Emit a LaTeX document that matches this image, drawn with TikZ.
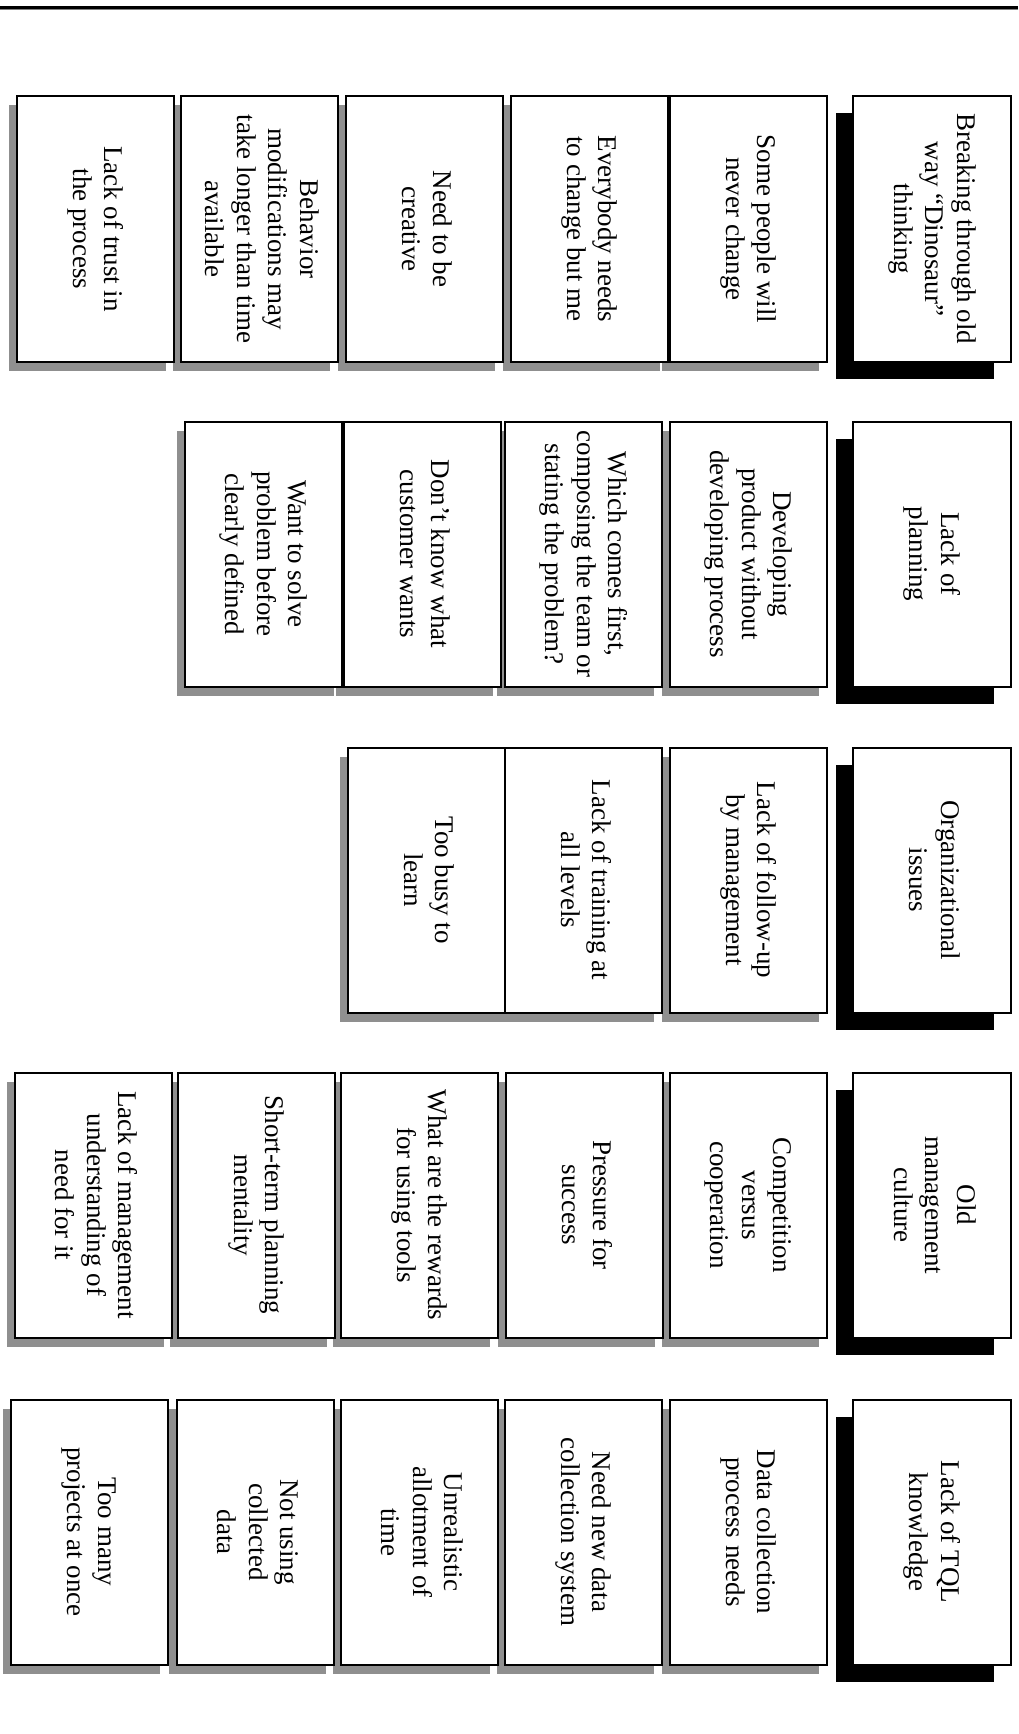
\documentclass[tikz,border=0pt]{standalone}
\usepackage{fontspec}
\setmainfont{Liberation Serif}
\usepackage{graphicx}
\usepackage{tikz}
\usetikzlibrary{positioning,shadows}
\definecolor{ShadowGray}{HTML}{8F8F8F}
\definecolor{RuleGray}{HTML}{808080}
\newcommand{\cardtext}[1]{\rotatebox{-90}{\begin{tabular}{@{}c@{}}#1\end{tabular}}}

\begin{document}
\begin{tikzpicture}[x=1pt,y=-1pt,node distance=7pt,
  cardbase/.style={draw,line width=2pt,fill=white,inner sep=0pt,outer sep=0pt,
    minimum height=265pt,font=\fontsize{27}{31.5}\selectfont},
  card/.style={cardbase,minimum width=157pt,
    drop shadow={shadow xshift=-8pt,shadow yshift=-9pt,fill=ShadowGray,opacity=1}},
  headcard/.style={cardbase,minimum width=158pt,
    drop shadow={shadow xshift=-17pt,shadow yshift=-17pt,fill=black,opacity=1}}]
\useasboundingbox (0,0) rectangle (1018,1734);
\draw[line width=2.7pt] (0,7.3) -- (1018,7.3);
\draw[RuleGray,line width=1.3pt] (0,9.4) -- (1018,9.4);

\node[headcard] (h1) at (932,229) {\cardtext{Breaking through old\\way “Dinosaur”\\thinking}};
\node[card,left=26pt of h1] (a1) {\cardtext{Some people will\\never change}};
\node[card,left=2pt of a1] (a2) {\cardtext{Everybody needs\\to change but me}};
\node[card,left=8pt of a2] (a3) {\cardtext{Need to be\\creative}};
\node[card,left=8pt of a3] (a4) {\cardtext{Behavior\\modifications may\\take longer than time\\available}};
\node[card,left=7pt of a4] (a5) {\cardtext{Lack of trust in\\the process}};

\node[headcard] (h2) at (932,554) {\cardtext{Lack of\\planning}};
\node[card,left=26pt of h2] (b1) {\cardtext{Developing\\product without\\developing process}};
\node[card,left=8pt of b1] (b2) {\cardtext{Which comes first,\\composing the team or\\stating the problem?}};
\node[card,left=4pt of b2] (b3) {\cardtext{Don’t know what\\customer wants}};
\node[card,left=2pt of b3] (b4) {\cardtext{Want to solve\\problem before\\clearly defined}};

\node[headcard] (h3) at (932,880) {\cardtext{Organizational\\issues}};
\node[card,left=26pt of h3] (c1) {\cardtext{Lack of follow-up\\by management}};
\node[card,left=8pt of c1] (c2) {\cardtext{Lack of training at\\all levels}};
\node[card,left=0pt of c2] (c3) {\cardtext{Too busy to\\learn}};

\node[headcard] (h4) at (932,1205) {\cardtext{Old\\management\\culture}};
\node[card,left=26pt of h4] (d1) {\cardtext{Competition\\versus\\cooperation}};
\node[card,left=of d1] (d2) {\cardtext{Pressure for\\success}};
\node[card,left=8pt of d2] (d3) {\cardtext{What are the rewards\\for using tools}};
\node[card,left=6pt of d3] (d4) {\cardtext{Short-term planning\\mentality}};
\node[card,left=6pt of d4] (d5) {\cardtext{Lack of management\\understanding of\\need for it}};

\node[headcard] (h5) at (932,1532) {\cardtext{Lack of TQL\\knowledge}};
\node[card,left=26pt of h5] (e1) {\cardtext{Data collection\\process needs}};
\node[card,left=8pt of e1] (e2) {\cardtext{Need new data\\collection system}};
\node[card,left=of e2] (e3) {\cardtext{Unrealistic\\allotment of\\time}};
\node[card,left=of e3] (e4) {\cardtext{Not using\\collected\\data}};
\node[card,left=9pt of e4] (e5) {\cardtext{Too many\\projects at once}};
\end{tikzpicture}
\end{document}
